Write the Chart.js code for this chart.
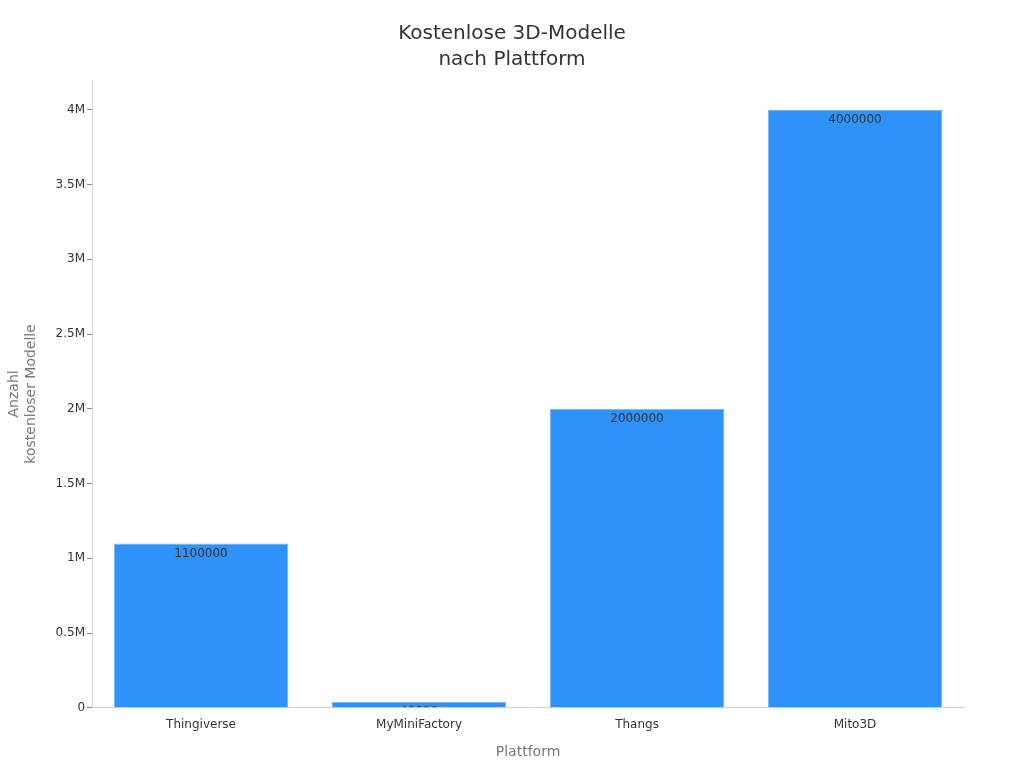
<!DOCTYPE html>
<html>
<head>
<meta charset="utf-8">
<script src="https://cdn.jsdelivr.net/npm/chart.js@4.4.1/dist/chart.umd.min.js"></script>
<style>
  html, body { margin: 0; padding: 0; background: #ffffff; }
  #wrap { width: 1024px; height: 768px; }
</style>
</head>
<body>
<div id="wrap"><canvas id="chart" width="1024" height="768"></canvas></div>
<script>
// --- Data ---
const platforms = ['Thingiverse', 'MyMiniFactory', 'Thangs', 'Mito3D'];
const modelCounts = [1100000, 40000, 2000000, 4000000];
const yTicks = [0, 500000, 1000000, 1500000, 2000000, 2500000, 3000000, 3500000, 4000000];
const titleLines = ['Kostenlose 3D-Modelle', 'nach Plattform'];

const FONT = "'DejaVu Sans', sans-serif";

function formatTick(v) {
    if (v === 0) return '0';
    return (v / 1000000) + 'M';
}

// title centred on the whole canvas, not on the chart area
const pageTitle = {
    id: 'pageTitle',
    afterDraw(chart) {
        const ctx = chart.ctx;
        ctx.save();
        ctx.fillStyle = '#333333';
        ctx.font = '20px ' + FONT;
        ctx.textAlign = 'center';
        ctx.textBaseline = 'middle';
        titleLines.forEach((line, i) => ctx.fillText(line, chart.width / 2, 34 + i * 26));
        ctx.restore();
    }
};

// value labels drawn inside the top of each bar, clipped to the bar
const barLabels = {
    id: 'barLabels',
    afterDatasetsDraw(chart) {
        const ctx = chart.ctx;
        const meta = chart.getDatasetMeta(0);
        meta.data.forEach((bar, i) => {
            const left = bar.x - bar.width / 2;
            const top = bar.y;
            const h = bar.base - bar.y;
            ctx.save();
            ctx.beginPath();
            ctx.rect(left, top, bar.width, h);
            ctx.clip();
            ctx.fillStyle = '#333333';
            ctx.font = '12px ' + FONT;
            ctx.textAlign = 'center';
            ctx.textBaseline = 'top';
            ctx.fillText(String(modelCounts[i]), bar.x, top + 4);
            ctx.restore();
        });
    }
};

new Chart(document.getElementById('chart'), {
    type: 'bar',
    data: {
        labels: platforms,
        datasets: [{
            label: 'Kostenlose 3D-Modelle',
            data: modelCounts,
            backgroundColor: '#2e92f9',
            borderColor: '#6fb4fb',
            borderWidth: 1,
            categoryPercentage: 0.8,
            barPercentage: 1.0
        }]
    },
    options: {
        responsive: false,
        animation: false,
        layout: { padding: { left: 2, right: 60, top: 80, bottom: 3 } },
        plugins: {
            legend: { display: false },
            tooltip: { enabled: false },
            title: { display: false }
        },
        scales: {
            x: {
                grid: { display: false, drawOnChartArea: false },
                border: { color: '#d0d0d0' },
                ticks: { color: '#333333', font: { family: FONT, size: 12 }, padding: 2 },
                title: {
                    display: true,
                    text: 'Plattform',
                    color: '#777777',
                    font: { family: FONT, size: 14 },
                    padding: { top: 10 }
                }
            },
            y: {
                min: 0,
                max: 4200000,
                afterBuildTicks(axis) {
                    axis.ticks = yTicks.map(v => ({ value: v }));
                },
                grid: { drawOnChartArea: false, drawTicks: true, tickLength: 5, color: '#888888' },
                border: { color: '#d0d0d0' },
                ticks: {
                    color: '#333333',
                    font: { family: FONT, size: 12 },
                    padding: 2,
                    callback: v => formatTick(v)
                },
                title: {
                    display: true,
                    text: ['Anzahl', 'kostenloser Modelle'],
                    color: '#777777',
                    font: { family: FONT, size: 14 },
                    padding: { bottom: 14 }
                }
            }
        }
    },
    plugins: [barLabels, pageTitle]
});
</script>
</body>
</html>
